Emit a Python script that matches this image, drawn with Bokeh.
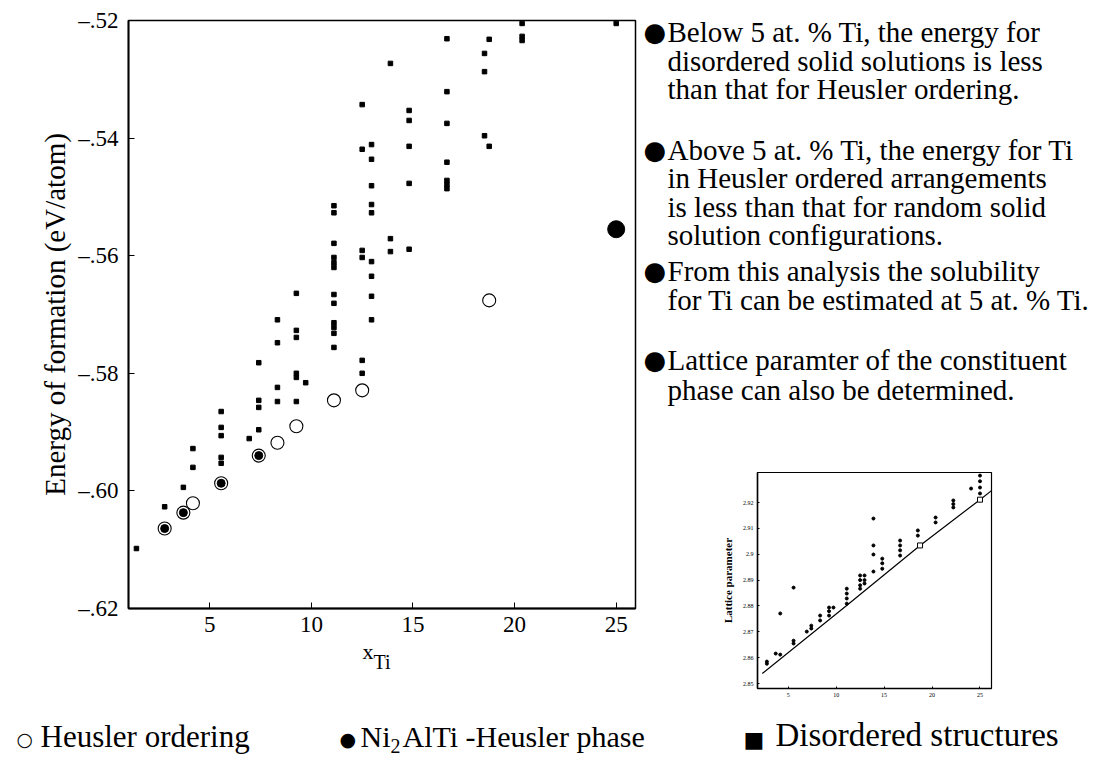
from bokeh.plotting import figure
from bokeh.models import Label, FixedTicker, CustomJSTickFormatter, Range1d
from bokeh.layouts import row, column
from bokeh.embed import file_html
from bokeh.resources import INLINE

SERIF = "Liberation Serif"
SYMB = "DejaVu Sans"

# ---------------- main chart data (x_Ti in at.%, energy in eV/atom) ----------------
dis_x = [1.39, 2.78, 3.70, 4.17, 4.17,
         5.56, 5.56, 5.56, 5.56, 5.56, 6.94,
         7.41, 7.41, 7.41, 7.41,
         8.33, 8.33, 8.33, 8.33,
         9.26, 9.26, 9.26, 9.26, 9.26, 9.26, 9.72,
         11.11, 11.11, 11.11, 11.11, 11.11, 11.11, 11.11, 11.11, 11.11, 11.11, 11.11, 11.11,
         12.50, 12.50, 12.50, 12.50, 12.50, 12.50,
         12.96, 12.96, 12.96, 12.96, 12.96, 12.96, 12.96, 12.96, 12.96,
         13.89, 13.89, 13.89,
         14.81, 14.81, 14.81, 14.81, 14.81,
         16.67, 16.67, 16.67, 16.67, 16.67, 16.67, 16.67,
         18.52, 18.52, 18.52, 18.75, 18.75,
         20.37, 20.37, 20.37, 25.00]
dis_y = [-0.6098, -0.6027, -0.5994, -0.5928, -0.5960,
         -0.5865, -0.5892, -0.5906, -0.5943, -0.5953, -0.5911,
         -0.5782, -0.5846, -0.5858, -0.5896,
         -0.5709, -0.5748, -0.5824, -0.5848,
         -0.5664, -0.5727, -0.5739, -0.5800, -0.5807, -0.5848, -0.5816,
         -0.5515, -0.5527, -0.5579, -0.5603, -0.5612, -0.5620, -0.5666, -0.5681, -0.5714, -0.5722, -0.5732, -0.5756,
         -0.5343, -0.5419, -0.5591, -0.5603, -0.5778, -0.5800,
         -0.5411, -0.5436, -0.5481, -0.5513, -0.5527, -0.5610, -0.5635, -0.5669, -0.5709,
         -0.5273, -0.5571, -0.5593,
         -0.5353, -0.5370, -0.5414, -0.5477, -0.5589,
         -0.5231, -0.5321, -0.5375, -0.5441, -0.5472, -0.5479, -0.5486,
         -0.5256, -0.5287, -0.5396, -0.5232, -0.5414,
         -0.5205, -0.5227, -0.5234, -0.5205]

heus_x = [2.78, 3.70, 4.17, 5.56, 7.41, 8.33, 9.26, 11.11, 12.50, 18.75]
heus_y = [-0.6064, -0.6037, -0.6021, -0.5987, -0.5940, -0.5918, -0.5890, -0.5846, -0.5829, -0.5676]

# disordered structures coinciding with the Heusler ordered ones
both_x = [2.78, 3.70, 5.56, 7.41]
both_y = [-0.6064, -0.6037, -0.5987, -0.5940]

ni2_x = [25.0]
ni2_y = [-0.5555]

x_ticks = [5, 10, 15, 20, 25]
y_ticks = [-0.62, -0.60, -0.58, -0.56, -0.54, -0.52]

# ---------------- inset data (lattice parameter) ----------------
lat_x = [2.78, 2.78, 3.70, 4.17, 4.17, 5.56, 5.56, 5.56,
         6.94, 7.41, 7.41, 8.33, 8.33,
         9.26, 9.26, 9.26, 9.72,
         11.11, 11.11, 11.11, 11.11,
         12.50, 12.50, 12.50, 12.50, 12.96, 12.96, 12.96,
         13.89, 13.89, 13.89, 13.89, 14.81, 14.81, 14.81,
         16.67, 16.67, 16.67, 16.67, 18.52, 18.52, 20.37, 20.37,
         22.22, 22.22, 22.22, 24.07, 25.0, 25.0, 25.0, 25.0]
lat_y = [2.8577, 2.8585, 2.8616, 2.8612, 2.8771, 2.8871, 2.8666, 2.8655,
         2.8701, 2.8724, 2.8713, 2.8763, 2.8744,
         2.8794, 2.8780, 2.8763, 2.8794,
         2.8867, 2.8848, 2.8829, 2.8809,
         2.8918, 2.8900, 2.8880, 2.8867, 2.8918, 2.8900, 2.8887,
         2.9138, 2.9034, 2.8999, 2.8933, 2.8983, 2.8965, 2.8944,
         2.9053, 2.9034, 2.9015, 2.8995, 2.9092, 2.9072, 2.9142, 2.9123,
         2.9208, 2.9194, 2.9181, 2.9254, 2.9304, 2.9282, 2.9258, 2.9235]
lat_heus_x = [18.75, 25.0]
lat_heus_y = [2.9034, 2.9211]
fit_x = [2.3, 11.0, 18.75, 25.0, 26.2]
fit_y = [2.8539, 2.8799, 2.9034, 2.9211, 2.9246]
lat_x_ticks = [5, 10, 15, 20, 25]
lat_y_ticks = [2.85, 2.86, 2.87, 2.88, 2.89, 2.90, 2.91, 2.92]

# ---------------- text ----------------
paragraphs = [
    ["Below 5 at. % Ti, the energy for",
     "disordered solid solutions is less",
     "than that for Heusler ordering."],
    ["Above 5 at. % Ti, the energy for Ti",
     "in Heusler ordered arrangements",
     "is less than that for random solid",
     "solution configurations."],
    ["From this analysis the solubility",
     "for Ti can be estimated at 5 at. % Ti."],
    ["Lattice paramter of the constituent",
     "phase can also be determined."],
]
baselines = [[42, 71, 99], [160, 188, 217, 245], [281, 310], [370, 400]]


def lbl(fig, x, y, text, size, font=SERIF, baseline="alphabetic"):
    fig.add_layout(Label(x=x, y=y, x_units="screen", y_units="screen", text=text, text_color="black",
                         text_font=font, text_font_size="%dpx" % size, text_baseline=baseline))


def text_at(fig, fig_bottom, x, page_baseline, text, size, font=SERIF):
    # place a text so that its alphabetic baseline falls on page_baseline (page pixels)
    lbl(fig, x, fig_bottom - page_baseline + 0.37 * size, text, size, font=font)


def blank(width, height, **kw):
    f = figure(width=width, height=height, x_range=Range1d(0, 1), y_range=Range1d(0, 1),
               output_backend="svg", toolbar_location=None,
               x_axis_location=None, y_axis_location=None, **kw)
    f.grid.grid_line_color = None
    f.outline_line_color = None
    return f


# ======================= main figure (page x 0..640, y 0..639) =======================
PB = 639
p = figure(width=640, height=PB, x_range=Range1d(1.0, 25.95), y_range=Range1d(-0.62, -0.52),
           output_backend="svg", toolbar_location=None,
           min_border_left=128, min_border_right=5, min_border_top=20, min_border_bottom=PB - 608)
p.xgrid.grid_line_color = None
p.ygrid.grid_line_color = None
p.outline_line_color = "black"
p.outline_line_width = 1.5
p.outline_line_alpha = 1.0
p.xaxis.ticker = FixedTicker(ticks=x_ticks)
p.yaxis.ticker = FixedTicker(ticks=y_ticks)
p.yaxis.formatter = CustomJSTickFormatter(code="return '\u2013' + Math.abs(tick).toFixed(2).substring(1);")
for ax in (p.xaxis[0], p.yaxis[0]):
    ax.axis_line_width = 1.8
    ax.axis_line_color = "black"
    ax.major_tick_in = 6
    ax.major_tick_out = 0
    ax.major_tick_line_color = "black"
    ax.minor_tick_line_color = None
    ax.major_label_text_font = SERIF
    ax.major_label_text_font_size = "23px"
    ax.major_label_text_color = "black"
p.xaxis.major_label_standoff = 8
p.yaxis.major_label_standoff = 10
p.yaxis.axis_label = "Energy of formation (eV/atom)"
p.yaxis.axis_label_text_font = SERIF
p.yaxis.axis_label_text_font_size = "29px"
p.yaxis.axis_label_text_font_style = "normal"
p.yaxis.axis_label_text_color = "black"
p.yaxis.axis_label_standoff = 4

p.scatter(dis_x, dis_y, marker="square", size=4.5, color="black")
p.scatter(heus_x, heus_y, marker="circle", size=13, fill_color=None, line_color="black", line_width=1.1)
p.scatter(both_x, both_y, marker="circle", size=8, color="black")
p.scatter(ni2_x, ni2_y, marker="circle", size=17, color="black")

# x_Ti axis title strip (page y 639..708), frame x 128..635 like the main plot
xt = blank(640, 708 - PB, min_border_left=128, min_border_right=5, min_border_top=0, min_border_bottom=0)
text_at(xt, 708, 362 - 128, 659, "x", 22)
text_at(xt, 708, 373 - 128, 669, "Ti", 20)

# ======================= notes (page x 640..1090, y 0..462) =======================
RX0 = 640
t = blank(450, 462, min_border=0)
for para, bls in zip(paragraphs, baselines):
    lbl(t, 643 - RX0, 462 - (bls[0] - 11), "\u25cf", 26, font=SYMB, baseline="middle")
    for line, bl in zip(para, bls):
        text_at(t, 462, 667 - RX0, bl, line, 29)

# ======================= lattice-parameter inset (page y 462..708) =======================
FL, FR, FT, FB = 757, 991, 472, 688
ins = figure(width=450, height=246, x_range=Range1d(1.8, 26.2), y_range=Range1d(2.8481, 2.9316),
             output_backend="svg", toolbar_location=None,
             min_border_left=FL - RX0, min_border_right=RX0 + 450 - FR,
             min_border_top=FT - 462, min_border_bottom=708 - FB)
ins.grid.grid_line_color = None
ins.outline_line_color = "black"
ins.outline_line_width = 1.2
ins.xaxis.ticker = FixedTicker(ticks=lat_x_ticks)
ins.yaxis.ticker = FixedTicker(ticks=lat_y_ticks)
for ax in (ins.xaxis[0], ins.yaxis[0]):
    ax.axis_line_width = 1.5
    ax.axis_line_color = "black"
    ax.major_tick_in = 2
    ax.major_tick_out = 0
    ax.minor_tick_line_color = None
    ax.major_label_text_font = SERIF
    ax.major_label_text_font_size = "6px"
    ax.major_label_text_color = "black"
    ax.major_label_standoff = 4
ins.yaxis.axis_label = "Lattice parameter"
ins.yaxis.axis_label_text_font = SERIF
ins.yaxis.axis_label_text_font_size = "11px"
ins.yaxis.axis_label_text_font_style = "bold"
ins.yaxis.axis_label_text_color = "black"
ins.yaxis.axis_label_standoff = 6
ins.line(fit_x, fit_y, line_color="black", line_width=1.2)
ins.scatter(lat_x, lat_y, marker="circle", size=3, color="black")
ins.scatter(lat_heus_x, lat_heus_y, marker="square", size=5, fill_color="white", line_color="black", line_width=1)

# ======================= legend strip (page y 708..760) =======================
LB = 760
leg = blank(1090, LB - 708, min_border=0)
BASE = 747
text_at(leg, LB, 16, BASE - 1, "\u25cb", 19, font=SYMB)
text_at(leg, LB, 40, BASE, "Heusler ordering", 31)
text_at(leg, LB, 339, BASE - 1, "\u25cf", 19, font=SYMB)
text_at(leg, LB, 360, BASE, "Ni", 30)
text_at(leg, LB, 390, BASE + 6, "2", 20)
text_at(leg, LB, 402, BASE, "AlTi -Heusler phase", 30)
text_at(leg, LB, 743, BASE, "\u25a0", 22, font=SYMB)
text_at(leg, LB, 775, BASE, "Disordered structures", 33)

left = column(p, xt)
right = column(column(t), column(ins))
layout = column(row(left, right), column(leg))
open("out.html", "w").write(file_html(layout, INLINE))
